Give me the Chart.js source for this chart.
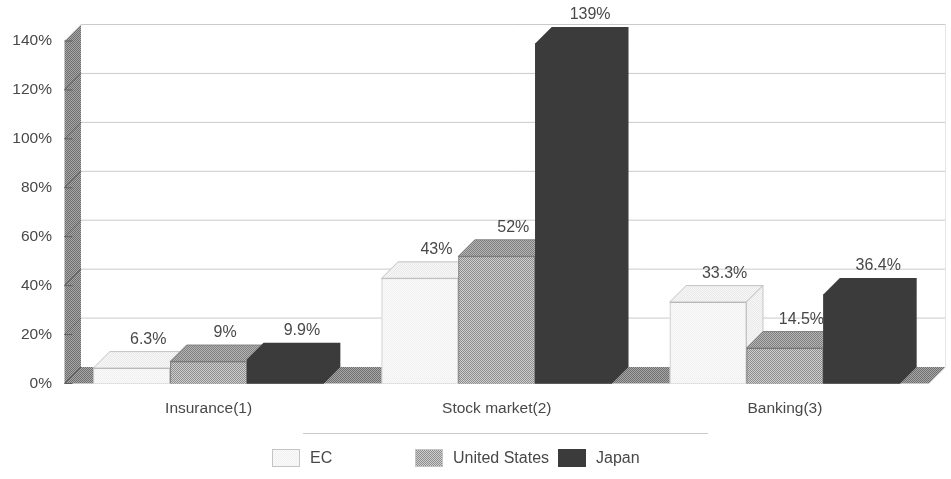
<!DOCTYPE html>
<html>
<head>
<meta charset="utf-8">
<title>Insurance, stock market and banking</title>
<style>
  html, body { margin: 0; padding: 0; background: #fff; }
  canvas { display: block; }
</style>
<script src="https://cdn.jsdelivr.net/npm/chart.js@4/dist/chart.umd.min.js"></script>
</head>
<body>
<canvas id="chart" width="951" height="479"></canvas>
<script>
const categories = ['Insurance(1)', 'Stock market(2)', 'Banking(3)'];
const ecValues = [6.3, 43, 33.3];
const usValues = [9, 52, 14.5];
const japanValues = [9.9, 139, 36.4];
const ecLabels = ['6.3%', '43%', '33.3%'];
const usLabels = ['9%', '52%', '14.5%'];
const japanLabels = ['9.9%', '139%', '36.4%'];
const yTicks = [0, 20, 40, 60, 80, 100, 120, 140];

const FONT = '"Liberation Sans", Arial, sans-serif';
const TEXT = '#484848';
const DX = 16.5, DY = 16.5;   // depth of the fake 3D box

// 2px dither tile, used for the hatched faces
function dither(dark, light) {
    const c = document.createElement('canvas');
    c.width = c.height = 2;
    const g = c.getContext('2d');
    g.fillStyle = light;
    g.fillRect(0, 0, 2, 2);
    g.fillStyle = dark;
    g.fillRect(0, 0, 1, 1);
    g.fillRect(1, 1, 1, 1);
    return g.createPattern(c, 'repeat');
}

const wallFill = dither('#6e6e6e', '#a8a8a8');
const ecFront = dither('#f0f0f0', '#fbfbfb');
const ecTop = dither('#e8e8e8', '#f8f8f8');
const usFront = dither('#8c8c8c', '#d0d0d0');
const usTop = dither('#808080', '#b4b4b4');
const japan = '#3b3b3b';

function poly(ctx, pts, fill, stroke) {
    ctx.beginPath();
    pts.forEach((p, i) => i ? ctx.lineTo(p[0], p[1]) : ctx.moveTo(p[0], p[1]));
    ctx.closePath();
    ctx.fillStyle = fill;
    ctx.fill();
    if (stroke) {
        ctx.strokeStyle = stroke;
        ctx.lineWidth = 0.8;
        ctx.stroke();
    }
}

// side wall, floor and back wall lines
const wallsPlugin = {
    id: 'walls',
    beforeDatasetsDraw(chart) {
        const { ctx, chartArea: a, scales: { y } } = chart;
        const y0 = y.getPixelForValue(0), yTop = y.getPixelForValue(140);
        ctx.save();
        ctx.strokeStyle = '#cacaca';
        ctx.lineWidth = 1;
        yTicks.forEach(v => {
            if (v === 0) return;
            const py = y.getPixelForValue(v) - DY;
            ctx.beginPath();
            ctx.moveTo(a.left + DX, py);
            ctx.lineTo(a.right + DX, py);
            ctx.stroke();
        });
        ctx.strokeStyle = '#e6e6e6';
        ctx.beginPath();
        ctx.moveTo(a.right + DX, yTop - DY);
        ctx.lineTo(a.right + DX, y0 - DY);
        ctx.stroke();

        poly(ctx, [[a.left, y0], [a.left, yTop], [a.left + DX, yTop - DY], [a.left + DX, y0 - DY]], wallFill);
        poly(ctx, [[a.left, y0], [a.right, y0], [a.right + DX, y0 - DY], [a.left + DX, y0 - DY]], wallFill);

        ctx.strokeStyle = '#5c5c5c';
        ctx.lineWidth = 1;
        yTicks.forEach(v => {
            const py = y.getPixelForValue(v);
            ctx.beginPath();
            if (v < 140) {
                ctx.moveTo(a.left, py);
                ctx.lineTo(a.left + DX, py - DY);
            }
            ctx.moveTo(a.left, py);
            ctx.lineTo(a.left + 8, py);
            ctx.stroke();
        });
        ctx.restore();
    }
};

// Chart.js paints datasets last to first, but the boxes have to overlap
// left to right, so the default pass is skipped and repainted in order here
const boxPlugin = {
    id: 'boxes',
    beforeDatasetDraw() {
        return false;
    },
    afterDatasetsDraw(chart) {
        const { ctx } = chart;
        ctx.save();
        chart.data.datasets.forEach((ds, i) => {
            chart.getDatasetMeta(i).data.forEach(bar => {
                const r = bar.x + bar.width / 2, l = bar.x - bar.width / 2;
                // whole outline first, so edgeless boxes show no seams
                poly(ctx, [[l, bar.base], [l, bar.y], [l + DX, bar.y - DY], [r + DX, bar.y - DY], [r + DX, bar.base - DY], [r, bar.base]], ds.topFill);
                if (ds.edge) {
                    poly(ctx, [[l, bar.y], [r, bar.y], [r + DX, bar.y - DY], [l + DX, bar.y - DY]], ds.topFill, ds.edge);
                    poly(ctx, [[r, bar.y], [r + DX, bar.y - DY], [r + DX, bar.base - DY], [r, bar.base]], ds.topFill, ds.edge);
                }
                bar.draw(ctx);
            });
        });

        ctx.font = '16px ' + FONT;
        ctx.textAlign = 'center';
        ctx.textBaseline = 'middle';
        chart.data.datasets.forEach((ds, i) => {
            chart.getDatasetMeta(i).data.forEach((bar, j) => {
                ctx.fillStyle = TEXT;
                ctx.fillText(ds.valueLabels[j], bar.x + DX, bar.y - DY - 12);
            });
        });
        ctx.restore();
    }
};

// legend entries are unevenly spaced, so they are placed by hand
const keyPlugin = {
    id: 'key',
    afterDraw(chart) {
        const { ctx } = chart;
        const slots = [272, 415, 558];
        ctx.save();
        ctx.strokeStyle = '#cacaca';
        ctx.lineWidth = 1;
        ctx.beginPath();
        ctx.moveTo(303, 433.5);
        ctx.lineTo(708, 433.5);
        ctx.stroke();
        ctx.font = '16px ' + FONT;
        ctx.textBaseline = 'middle';
        chart.data.datasets.forEach((ds, i) => {
            const x = slots[i];
            ctx.fillStyle = ds.backgroundColor;
            ctx.fillRect(x, 449, 28, 18);
            if (ds.borderWidth) {
                ctx.strokeStyle = '#c4c4c4';
                ctx.strokeRect(x + 0.5, 449.5, 27, 17);
            }
            ctx.fillStyle = TEXT;
            ctx.fillText(ds.label, x + 38, 459);
        });
        ctx.restore();
    }
};

new Chart(document.getElementById('chart'), {
    type: 'bar',
    data: {
        labels: categories,
        datasets: [
            { label: 'EC', data: ecValues, valueLabels: ecLabels, backgroundColor: ecFront, topFill: ecTop, edge: '#b8b8b8', borderColor: '#b8b8b8', borderWidth: 1 },
            { label: 'United States', data: usValues, valueLabels: usLabels, backgroundColor: usFront, topFill: usTop, edge: '#777', borderColor: '#777', borderWidth: 1 },
            { label: 'Japan', data: japanValues, valueLabels: japanLabels, backgroundColor: japan, topFill: japan, edge: null, borderColor: japan, borderWidth: 0 }
        ]
    },
    options: {
        responsive: false,
        animation: false,
        layout: { padding: { top: 41, right: 22 } },
        datasets: { bar: { categoryPercentage: 0.8, barPercentage: 1 } },
        plugins: { legend: { display: false }, tooltip: { enabled: false } },
        scales: {
            x: {
                grid: { display: false },
                border: { display: false },
                ticks: { color: TEXT, font: { family: FONT, size: 15.5 }, padding: 8, maxRotation: 0 },
                afterFit(scale) { scale.height = 95.5; }
            },
            y: {
                min: 0,
                max: 140,
                grid: { display: false },
                border: { display: false },
                afterBuildTicks(scale) { scale.ticks = yTicks.map(v => ({ value: v })); },
                ticks: { color: TEXT, font: { family: FONT, size: 15.5 }, padding: 4.5, callback: v => v + '%' },
                afterFit(scale) { scale.width = 64.5; }
            }
        }
    },
    plugins: [wallsPlugin, boxPlugin, keyPlugin]
});
</script>
</body>
</html>
